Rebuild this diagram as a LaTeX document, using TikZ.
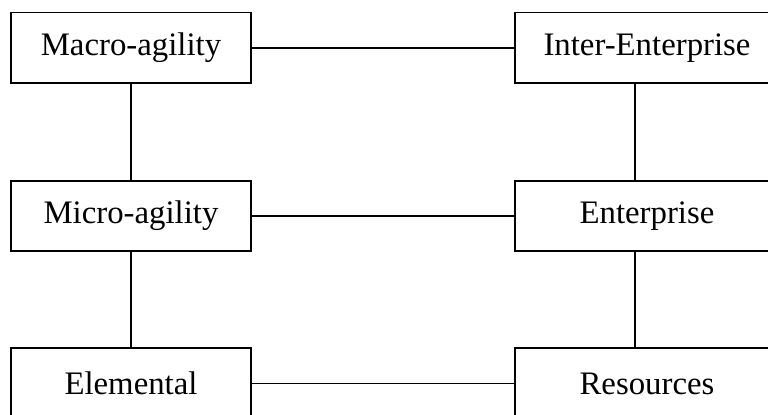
\documentclass[tikz,border=0pt]{standalone}
\usepackage{fontspec}
\setmainfont{Liberation Serif}

\begin{document}
\begin{tikzpicture}[x=0.5pt,y=-0.5pt,
   level/.style={draw,line width=0.8pt,inner sep=0pt,minimum height=35.25pt,
      font=\fontsize{16.4}{20}\selectfont},
   lbox/.style={level,minimum width=120pt},
   rbox/.style={level,minimum width=132pt},
   link/.style={line width=0.8pt}]
   \clip (0,0) rectangle (768,414);
   % left column
   \node[lbox] (macro) at (131,47.75) {Macro-agility};
   \node[lbox] (micro) at (131,216)   {Micro-agility};
   \node[lbox] (elem)  at (131,383.5) {Elemental};
   % right column
   \node[rbox] (inter) at (647,47.75) {Inter-Enterprise};
   \node[rbox] (ent)   at (647,216)   {Enterprise};
   \node[rbox] (res)   at (647,383.5) {Resources};
   % links
   \draw[link] (macro) -- (inter);
   \draw[link] (micro) -- (ent);
   \draw[link] (elem) -- (res);
   \draw[link] (macro) -- (micro);
   \draw[link] (micro) -- (elem);
   \draw[link] ([xshift=-6pt]inter.south) -- ([xshift=-6pt]ent.north);
   \draw[link] ([xshift=-6pt]ent.south) -- ([xshift=-6pt]res.north);
\end{tikzpicture}
\end{document}
